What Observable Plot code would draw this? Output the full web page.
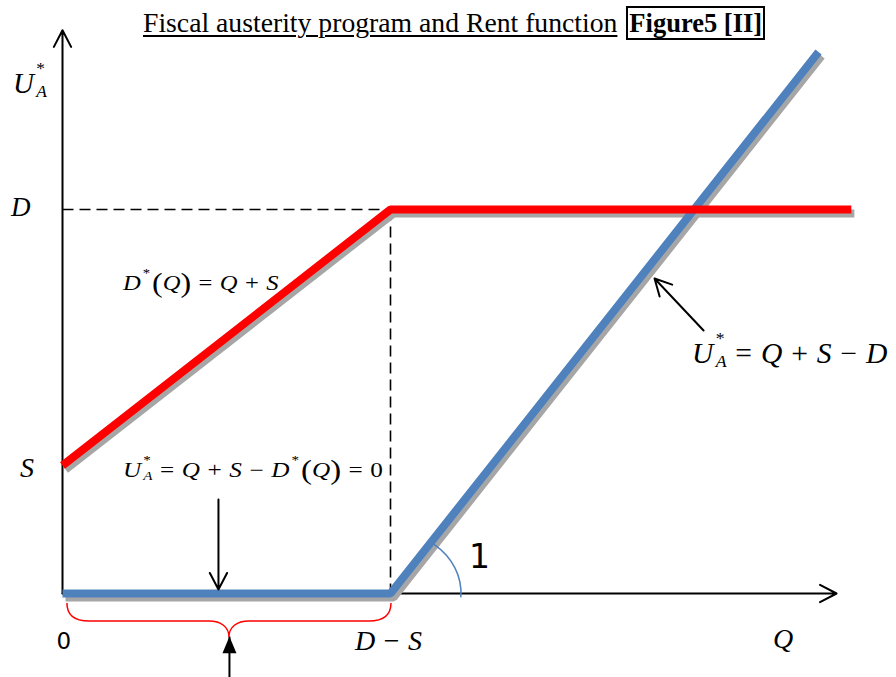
<!DOCTYPE html>
<html>
<head>
<meta charset="utf-8">
<script src="https://cdn.jsdelivr.net/npm/d3@7"></script>
<script src="https://cdn.jsdelivr.net/npm/@observablehq/plot@0.6"></script>
<style>
  html, body { margin: 0; padding: 0; background: #fff; }
  #chart { position: relative; width: 896px; height: 677px; }
  #title {
    position: absolute; left: 143px; top: 6px;
    font-family: "Liberation Serif", "Times New Roman", serif;
    font-size: 27.7px; line-height: 30px; white-space: nowrap; color: #000;
  }
  #title .main { text-decoration: underline; text-decoration-thickness: 2px; text-underline-offset: 3px; }
  #title .tag { display: inline-block; font-size: 26.5px; font-weight: bold; border: 2px solid #000; padding: 0 1px; margin-left: 2px; }
</style>
</head>
<body>
<div id="chart">
  <div id="title"><span class="main">Fiscal austerity program and Rent function</span> <span class="tag">Figure5 [II]</span></div>
</div>
<script>
const SERIF = "'Liberation Serif','Times New Roman',serif";
const SANS = "'DejaVu Sans','Liberation Sans',sans-serif";

// Model parameters on the vertical axis
const S = 1;            // intercept of D*(Q)
const D = 3;            // ceiling of D*(Q)
const KINK = D - S;     // Q where D*(Q) reaches D

// Rent function D*(Q) = min(Q + S, D)
const rentQ = [0, KINK, 4.81];
const rentU = [S, D, D];

// Rent of A: U*_A = max(Q + S - D, 0)
const utilQ = [0, KINK, 4.61];
const utilU = [0, 0, 4.23];

// Axis extents
const axisQmax = 4.72;
const axisUmax = 4.40;

// Annotation pointers: flat segment and the rising branch
const pointerQ1 = [0.951, 3.909], pointerU1 = [0.734, 2.055];
const pointerQ2 = [0.951, 3.610], pointerU2 = [0.031, 2.461];

// Brace under the interval [0, D - S] and the arrow pointing at it
const braceQ = [0.03, 2.006];
const braceArrowU = [-0.66, -0.336];

// Text labels
const labelText = [
  "U^*_A", "D", "S", "D − S", "Q",
  "D^*(Q) = Q + S",
  "U^*_A = Q + S − D^*(Q) = 0",
  "U^*_A = Q + S − D"
];
const labelQ = [-0.299, -0.311, -0.256, 1.787, 4.335, 0.372, 0.372, 3.841];
const labelU = [3.906, 2.945, 0.906, -0.445, -0.43, 2.367, 0.906, 1.797];
const labelSize = [29, 27, 28, 28, 28, 20.5, 21, 29];
const labelStretch = [1, 1, 1, 1, 1, 1.2, 1.2, 1.02];

const numText = ["0", "1"];
const numQ = [-0.034, 2.482];
const numU = [-0.4375, 0.195];
const numSize = [23, 33];

const rent = rentQ.map((q, i) => ({q, u: rentU[i]}));
const util = utilQ.map((q, i) => ({q, u: utilU[i]}));
const axes = [
  {q1: 0, u1: 0, q2: axisQmax, u2: 0},
  {q1: 0, u1: 0, q2: 0, u2: axisUmax}
];
const guides = [
  {q1: 0, u1: D, q2: KINK, u2: D},
  {q1: KINK, u1: D, q2: KINK, u2: 0}
];
const pointers = pointerQ1.map((q1, i) => ({q1, u1: pointerU1[i], q2: pointerQ2[i], u2: pointerU2[i]}));
const braceMid = (braceQ[0] + braceQ[1]) / 2;
const braceArrow = [{q: braceMid, u1: braceArrowU[0], u2: braceArrowU[1]}];

const W = 896, H = 677;
const xDomain = [-62 / 164, (W - 62) / 164];
const yDomain = [(593 - H) / 128, 593 / 128];

// Filled arrowhead, tip at the anchor point, pointing up
const upHead = {
  draw(ctx, size) {
    const w = Math.sqrt(size / Math.PI);
    ctx.moveTo(0, 0);
    ctx.lineTo(w, 2.4 * w);
    ctx.lineTo(-w, 2.4 * w);
    ctx.closePath();
  }
};

// Typeset a small formula: letters italic, ^x superscript, _x subscript stacked under it,
// tall parentheses, extra room around = + −
function mathLabel(parent, x, y, src, size, stretch, gap = 0.3) {
  const text = parent.append("text")
    .attr("transform", `translate(${x},${y}) scale(${stretch},1)`)
    .attr("text-anchor", "start")
    .attr("font-family", SERIF).attr("font-size", size).attr("fill", "#000");
  const tokens = [];
  for (let i = 0; i < src.length; i++) {
    const c = src[i];
    if (c === " ") continue;
    if (c === "^" || c === "_") tokens.push({ch: src[++i], kind: c === "^" ? "sup" : "sub"});
    else tokens.push({ch: c, kind: "base"});
  }
  let off = 0, pad = 0;
  tokens.forEach((t, k) => {
    const prev = tokens[k - 1];
    const paren = t.kind === "base" && "()".includes(t.ch);
    const target = t.kind === "sup" ? -0.64 * size
      : t.kind === "sub" ? 0.14 * size
      : paren ? 0.08 * size : 0;
    let dx = pad; pad = 0;
    if (t.kind === "base" && "=+−".includes(t.ch)) { dx += gap * size; pad = gap * size; }
    if (t.kind === "sup" && prev && /[A-Za-z]/.test(prev.ch)) dx += 0.08 * size;
    if (t.kind === "sub" && prev && prev.kind === "sup") dx -= 0.3 * size;
    if (t.ch === "(") dx += 0.08 * size;
    text.append("tspan")
      .attr("dx", dx).attr("dy", target - off)
      .attr("font-size", t.kind !== "base" ? 0.6 * size : paren ? 1.3 * size : null)
      .attr("font-style", /[A-Za-z]/.test(t.ch) ? "italic" : "normal")
      .text(t.ch);
    off = target;
  });
}

const ownX = d3.scaleLinear(xDomain, [0, W]);
const ownY = d3.scaleLinear(yDomain, [H, 0]);

const lineStyle = {x: "q", y: "u", strokeWidth: 8, strokeLinecap: "butt", strokeLinejoin: "miter"};

const plot = Plot.plot({
  width: W, height: H,
  marginTop: 0, marginRight: 0, marginBottom: 0, marginLeft: 0,
  x: {domain: xDomain, axis: null},
  y: {domain: yDomain, axis: null},
  style: {background: "transparent", overflow: "visible"},
  marks: [
    // dashed guides to the kink
    Plot.link(guides, {x1: "q1", y1: "u1", x2: "q2", y2: "u2", stroke: "#000", strokeWidth: 1.6, strokeDasharray: "11,6"}),
    // axes
    Plot.arrow(axes, {x1: "q1", y1: "u1", x2: "q2", y2: "u2", stroke: "#000", strokeWidth: 2, headLength: 14, headAngle: 55}),
    // drop shadows
    Plot.line(util, {...lineStyle, stroke: "#A6A6A6", dx: 3, dy: 4}),
    Plot.line(rent, {...lineStyle, stroke: "#A6A6A6", dx: 3, dy: 4}),
    // U*_A and D*(Q)
    Plot.line(util, {...lineStyle, stroke: "#4F81BD"}),
    Plot.line(rent, {...lineStyle, stroke: "#FF0000"}),
    // pointers
    Plot.arrow(pointers, {x1: "q1", y1: "u1", x2: "q2", y2: "u2", stroke: "#000", strokeWidth: 2, headLength: 14, headAngle: 55}),
    Plot.link(braceArrow, {x1: "q", y1: "u1", x2: "q", y2: "u2", stroke: "#000", strokeWidth: 2}),
    Plot.dot(braceArrow, {x: "q", y: "u2", symbol: upHead, r: 7, fill: "#000", stroke: null}),
    // brace, slope arc and labels
    (index, scales) => {
      const x = scales.x ?? ownX, y = scales.y ?? ownY;
      const g = d3.create("svg:g").attr("text-anchor", "start");
      // brace under [0, D - S]
      const x0 = x(braceQ[0]), x1 = x(braceQ[1]), cx = x(braceMid), y0 = y(0);
      const top = y0 + 10, mid = y0 + 28, tip = y0 + 44;
      const half = (xe, s) =>
        `M${xe},${top} C${xe},${top + 12} ${xe + s * 8},${mid} ${xe + s * 22},${mid} ` +
        `L${cx - s * 20},${mid} C${cx - s * 8},${mid} ${cx},${mid + 6} ${cx},${tip}`;
      g.append("path").attr("d", half(x0, 1) + " " + half(x1, -1))
        .attr("fill", "none").attr("stroke", "#FF0000").attr("stroke-width", 1.5);
      // slope arc at the kink
      const kx = x(KINK), ky = y(0), rx = 71, ry = 62;
      const a0 = Math.atan2(y(utilU[2]) - ky, x(utilQ[2]) - kx);
      const a1 = 4 * Math.PI / 180;
      g.append("path")
        .attr("d", `M${kx + rx * Math.cos(a0)},${ky + ry * Math.sin(a0)} A${rx},${ry} 0 0 1 ${kx + rx * Math.cos(a1)},${ky + ry * Math.sin(a1)}`)
        .attr("fill", "none").attr("stroke", "#4F81BD").attr("stroke-width", 1.5);
      // formulas
      labelText.forEach((t, i) => mathLabel(g, x(labelQ[i]), y(labelU[i]), t, labelSize[i], labelStretch[i]));
      // numerals
      numText.forEach((t, i) => g.append("text")
        .attr("x", x(numQ[i])).attr("y", y(numU[i]))
        .attr("text-anchor", "start")
        .attr("font-family", SANS).attr("font-size", numSize[i]).attr("fill", "#000")
        .text(t));
      return g.node();
    }
  ]
});

document.getElementById("chart").prepend(plot);
</script>
</body>
</html>
